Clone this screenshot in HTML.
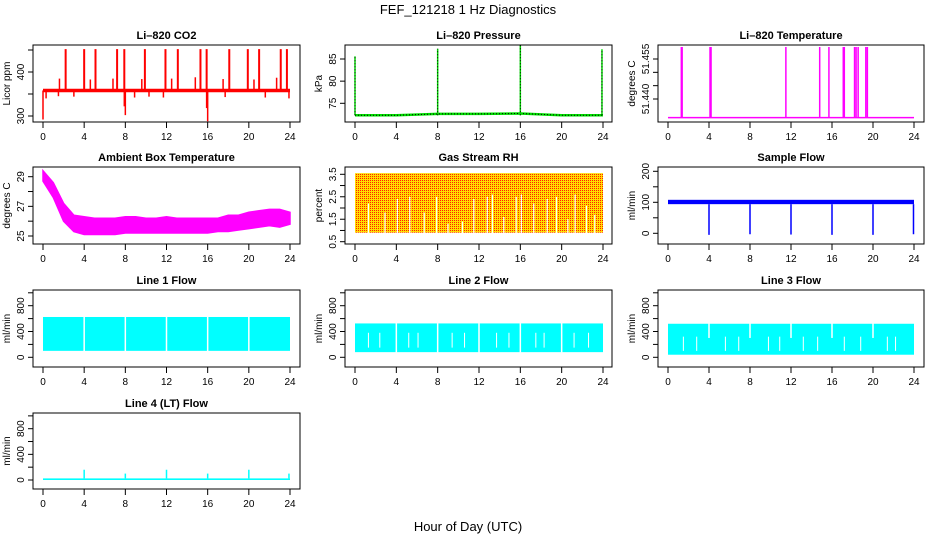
<!DOCTYPE html>
<html><head><meta charset="utf-8">
<style>
html,body{margin:0;padding:0;background:#fff;}
svg{display:block;font-family:"Liberation Sans",Arial,sans-serif;}
</style></head>
<body>
<svg id="chart" width="936" height="540" viewBox="0 0 936 540" xmlns="http://www.w3.org/2000/svg">
<defs>
<pattern id="rhpat" width="2" height="2" patternUnits="userSpaceOnUse">
<rect width="2" height="2" fill="#ffdd00"/><rect width="1" height="1" fill="#ff2000"/>
</pattern>
</defs>
<text x="468" y="14" font-size="13" text-anchor="middle">FEF_121218  1 Hz Diagnostics</text>
<text x="468" y="531" font-size="13" text-anchor="middle">Hour of Day (UTC)</text>
</svg>
<script>
// ---------- data ----------
const xTicks = [0,4,8,12,16,20,24];
const co2Base = 358;
const co2TallHours = [2.2,4.0,5.1,7.2,7.9,9.9,11.9,13.1,15.3,15.9,18.1,19.9,21.0,23.1,23.7];
const co2TallValue = 452;
const co2MedHours = [1.6,4.6,6.8,9.6,12.5,14.8,17.5,20.5,22.7];
const co2MedValues = [385,383,385,384,385,388,384,383,387];
const co2DownHours = [0.0,0.3,1.5,3.0,7.9,8.0,8.9,10.3,11.7,15.9,16.0,17.7,21.6,23.9];
const co2DownValues = [292,340,345,344,322,302,342,344,342,318,288,343,342,340];
const presHours = [0,4,8,12,16,20,24];
const presBase = [72.3,72.3,72.6,72.6,72.7,72.3,72.3];
const presSpikeHours = [0.0,8.0,16.0,23.9];
const presSpikeValues = [85.6,87.3,88.2,87.2];
const ltBase = 51.433;
const ltSpikeHours = [1.3,1.38,4.1,4.2,11.5,14.8,15.7,17.1,17.2,18.2,18.35,18.55,19.3,19.45];
const ltSpikeValue = 51.4595;
const ambHours = [0,1,2,3,4,5,6,7,8,9,10,11,12,13,14,15,16,17,18,19,20,21,22,23,24];
const ambUpper = [29.4,28.6,27.2,26.4,26.3,26.2,26.2,26.2,26.3,26.3,26.2,26.2,26.3,26.2,26.2,26.2,26.2,26.2,26.4,26.4,26.6,26.7,26.8,26.8,26.6];
const ambLower = [28.7,27.6,26.0,25.3,25.1,25.1,25.1,25.1,25.2,25.2,25.2,25.2,25.2,25.2,25.2,25.2,25.2,25.3,25.3,25.4,25.5,25.6,25.7,25.6,25.8];
const rhUpper = 3.55, rhLower = 0.9;
const rhGapHours = [1.3,2.9,4.1,5.3,6.7,7.9,9.0,10.4,11.5,12.8,13.3,14.4,15.6,16.1,17.3,18.6,19.5,20.6,21.3,22.4,23.2];
const rhGapTops = [2.2,1.8,2.4,2.5,1.8,2.5,1.3,1.4,2.4,2.5,2.6,1.6,2.5,2.6,2.2,2.4,2.5,1.5,2.6,2.1,1.7];
const sfLow = 94, sfHigh = 108;
const sfDipHours = [4,8,12,16,20,23.95];
const sfDipValues = [-5,-3,-4,-5,-5,-3];
const l1Low = 100, l1High = 625, l1Gaps = [4,8,12,16,20];
const l2Low = 80, l2High = 525, l2Gaps = [4,8,12,16,20];
const l2Partial = [1.3,2.4,5.2,6.1,9.4,10.6,13.7,14.9,17.5,18.3,21.2,22.6];
const l3Low = 40, l3High = 520, l3Gaps = [4,8,12,16,20];
const l3Partial = [1.5,2.8,5.6,6.9,9.8,10.9,13.2,14.6,17.2,18.8,21.4,22.2];
const l4Low = 0, l4High = 25;
const l4SpikeHours = [4,8,12,16,20,23.9];
const l4SpikeValues = [160,100,160,100,160,100];

// ---------- helpers ----------
const svg = document.getElementById('chart');
const NS = 'http://www.w3.org/2000/svg';
function mk(tag, attrs, parent){
  const e = document.createElementNS(NS, tag);
  for (const k in attrs) e.setAttribute(k, attrs[k]);
  (parent||svg).appendChild(e);
  return e;
}
const cols = [{l:33,r:300,x0:43,x1:290},{l:345,r:612,x0:355,x1:603},{l:658,r:924,x0:668,x1:914}];
const rows = [{t:45,b:122},{t:167,b:244},{t:290,b:367},{t:413,b:489}];

function panel(name, ci, ri, title, ylab, v0, p0, v1, p1, ticks, labels, fmt){
  const c = cols[ci], r = rows[ri];
  const g = mk('g', {});
  
  
  const xs = h => c.x0 + (h/24)*(c.x1-c.x0);
  const ys = v => p0 + (v - v0)*(p1-p0)/(v1-v0);
  const plot = mk('g', {}, g);
  
  
  const frame = mk('rect', {x:c.l, y:r.t, width:c.r-c.l, height:r.b-r.t, fill:'none', stroke:'#000', 'stroke-width':1}, g);
  
  
  const t = mk('text', {x:(c.l+c.r)/2, y:r.t-6, 'font-size':11, 'font-weight':'bold', 'text-anchor':'middle'}, g);
  
  
  t.textContent = title;
  const xa = mk('g', {}, g);
  
  
  xTicks.forEach(h => {
    mk('line', {x1:xs(h), x2:xs(h), y1:r.b, y2:r.b+6, stroke:'#000'}, xa);
    const tl = mk('text', {x:xs(h), y:r.b+18, 'font-size':10, 'text-anchor':'middle'}, xa);
    
    
    tl.textContent = h;
  });
  const ya = mk('g', {}, g);
  
  
  mk('line', {x1:c.l, x2:c.l, y1:ys(ticks[0]), y2:ys(ticks[ticks.length-1]), stroke:'#000'}, ya);
  ticks.forEach(v => {
    mk('line', {x1:c.l-5, x2:c.l, y1:ys(v), y2:ys(v), stroke:'#000'}, ya);
  });
  labels.forEach(v => {
    const yy = ys(v);
    const tl = mk('text', {x:c.l-9, y:yy, 'font-size':10, 'text-anchor':'middle', transform:`rotate(-90 ${c.l-9} ${yy})`}, ya);
    
    
    tl.textContent = fmt ? fmt(v) : v;
  });
  const yl = mk('text', {x:c.l-23, y:(r.t+r.b)/2, 'font-size':10, 'text-anchor':'middle', transform:`rotate(-90 ${c.l-23} ${(r.t+r.b)/2})`}, ya);
  
  
  yl.textContent = ylab;
  return {g:plot, xs, ys};
}
function vline(p, h, a, b, col, w){ return mk('line', {x1:p.xs(h), x2:p.xs(h), y1:p.ys(a), y2:p.ys(b), stroke:col, 'stroke-width':w||1}, p.g); }
function band(p, lo, hi, col){
  return mk('rect', {x:p.xs(0), y:p.ys(hi), width:p.xs(24)-p.xs(0), height:p.ys(lo)-p.ys(hi), fill:col}, p.g);
}

// ---------- Li-820 CO2 ----------
let p = panel('co2', 0, 0, 'Li\u2013820 CO2', 'Licor ppm', 300, 116, 400, 72, [300,350,400,450], [300,400]);
mk('line', {x1:p.xs(0), x2:p.xs(24), y1:p.ys(co2Base), y2:p.ys(co2Base), stroke:'red', 'stroke-width':3.5}, p.g);
co2TallHours.forEach(h => vline(p, h, co2Base, co2TallValue, 'red', 2));
co2MedHours.forEach((h,i) => vline(p, h, co2Base, co2MedValues[i], 'red', 1.5));
co2DownHours.forEach((h,i) => vline(p, h, co2Base, co2DownValues[i], 'red', 1.5));

// ---------- Pressure ----------
p = panel('pressure', 1, 0, 'Li\u2013820 Pressure', 'kPa', 75, 103.3, 85, 59, [75,80,85], [75,80,85]);
const pp = presHours.map((h,i) => p.xs(h)+','+p.ys(presBase[i])).join(' ');
mk('polyline', {points:pp, fill:'none', stroke:'#00dd00', 'stroke-width':2.5}, p.g);
mk('polyline', {points:pp, fill:'none', stroke:'#000', 'stroke-width':1, 'stroke-dasharray':'1 2'}, p.g);
presSpikeHours.forEach((h,i) => {
  vline(p, h, 72.3, presSpikeValues[i], '#00dd00', 1.5);
  mk('line', {x1:p.xs(h), x2:p.xs(h), y1:p.ys(72.3), y2:p.ys(presSpikeValues[i]), stroke:'#000', 'stroke-dasharray':'1 2'}, p.g);
});

// ---------- Li temp ----------
p = panel('li-temperature', 2, 0, 'Li\u2013820 Temperature', 'degrees C', 51.44, 99, 51.455, 59, [51.44,51.445,51.45,51.455], [51.44,51.455], v => v.toFixed(3));
mk('line', {x1:p.xs(0), x2:p.xs(24), y1:p.ys(ltBase), y2:p.ys(ltBase), stroke:'#ff00ff', 'stroke-width':1.5}, p.g);
ltSpikeHours.forEach(h => vline(p, h, ltBase, ltSpikeValue, '#ff00ff', 1.5));

// ---------- Ambient ----------
p = panel('ambient-temperature', 0, 1, 'Ambient Box Temperature', 'degrees C', 25, 236, 29, 176.7, [25,26,27,28,29], [25,27,29]);
{
  const up = ambHours.map((h,i) => p.xs(h)+','+p.ys(ambUpper[i]));
  const lo = ambHours.map((h,i) => p.xs(h)+','+p.ys(ambLower[i])).reverse();
  mk('polygon', {points:up.concat(lo).join(' '), fill:'#ff00ff', stroke:'#ff00ff', 'stroke-width':1.5}, p.g);
}

// ---------- RH ----------
p = panel('gas-stream-rh', 1, 1, 'Gas Stream RH', 'percent', 0.5, 241.7, 3.5, 174.3, [0.5,1,1.5,2,2.5,3,3.5], [0.5,1.5,2.5,3.5]);
mk('rect', {x:p.xs(0), y:p.ys(rhUpper), width:p.xs(24)-p.xs(0), height:p.ys(rhLower)-p.ys(rhUpper), fill:'url(#rhpat)'}, p.g);
rhGapHours.forEach((h,i) => vline(p, h, rhLower-0.05, rhGapTops[i], '#fff', 1.2));

// ---------- Sample flow ----------
p = panel('sample-flow', 2, 1, 'Sample Flow', 'ml/min', 0, 233.3, 100, 202.3, [0,50,100,150,200], [0,100,200]);
band(p, sfLow, sfHigh, '#0000ff');
sfDipHours.forEach((h,i) => vline(p, h, sfLow, sfDipValues[i], '#0000ff', 1.5));

// ---------- Line flows ----------
const flowTicks = [0,200,400,600,800,1000];
p = panel('line1-flow', 0, 2, 'Line 1 Flow', 'ml/min', 0, 357.3, 800, 305.7, flowTicks, [0,400,800]);
band(p, l1Low, l1High, '#00ffff');
l1Gaps.forEach(h => vline(p, h, l1Low-5, l1High+5, '#fff', 1.5));

p = panel('line2-flow', 1, 2, 'Line 2 Flow', 'ml/min', 0, 357.3, 800, 305.7, flowTicks, [0,400,800]);
band(p, l2Low, l2High, '#00ffff');
l2Gaps.forEach(h => vline(p, h, l2Low-5, l2High+5, '#fff', 1.5));
l2Partial.forEach(h => vline(p, h, 150, 380, '#fff', 1));

p = panel('line3-flow', 2, 2, 'Line 3 Flow', 'ml/min', 0, 357.3, 800, 305.7, flowTicks, [0,400,800]);
band(p, l3Low, l3High, '#00ffff');
l3Gaps.forEach(h => vline(p, h, 300, l3High+5, '#fff', 1.5));
l3Partial.forEach(h => vline(p, h, 100, 320, '#fff', 1));

p = panel('line4-flow', 0, 3, 'Line 4 (LT) Flow', 'ml/min', 0, 480, 800, 428.7, flowTicks, [0,400,800]);
band(p, l4Low, l4High, '#00ffff');
l4SpikeHours.forEach((h,i) => vline(p, h, l4High, l4SpikeValues[i], '#00ffff', 1.5));
</script>
</body></html>
